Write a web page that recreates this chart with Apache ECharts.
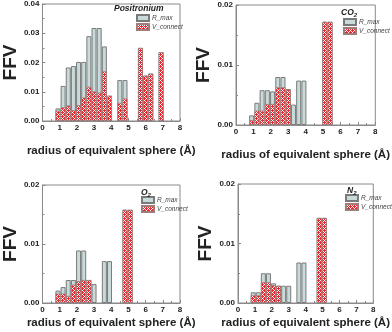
<!DOCTYPE html>
<html>
<head>
<meta charset="utf-8">
<script src="https://cdn.jsdelivr.net/npm/echarts@6/dist/echarts.min.js"></script>
<style>
  html, body { margin: 0; padding: 0; background: #fff; }
  #main { width: 392px; height: 332px; }
</style>
</head>
<body>
<div id="main"></div>
<script>
// bin centres (radius, Å) shared by all four panels
var radius = [0.9, 1.2, 1.5, 1.8, 2.1, 2.4, 2.7, 3.0, 3.3, 3.6, 3.9, 4.2, 4.5, 4.8, 5.1, 5.4, 5.7, 6.0, 6.3, 6.6, 6.9];

var posRmax = [0.0043, 0.012, 0.0183, 0.0188, 0.0202, 0.0202, 0.029, 0.0318, 0.0318, 0.0255, 0.0068, null, 0.014, 0.014, null, null, 0.025, 0.0155, 0.0162, null, 0.0235];
var posVcon = [0.0035, 0.0047, 0.0053, 0.0037, 0.0054, 0.008, 0.0117, 0.0101, 0.0097, 0.017, 0.0087, null, 0.0062, 0.0077, null, null, 0.025, 0.0155, 0.0162, null, 0.0235];

var co2Rmax = [0.0016, 0.0037, 0.0058, 0.0058, 0.0056, 0.008, 0.008, 0.006, 0.0034, 0.0074, 0.0074, null, null, null, 0.0172, 0.0172, null, null, null, null, null];
var co2Vcon = [0.0008, 0.0024, 0.0024, 0.0035, 0.0035, 0.0063, 0.0063, 0.0059, null, null, null, null, null, null, 0.0172, 0.0172, null, null, null, null, null];

var o2Rmax = [0.0021, 0.0027, 0.0039, 0.0039, 0.0089, 0.0089, 0.0039, 0.0032, null, 0.0071, 0.0071, null, null, 0.0158, 0.0158, null, null, null, null, null, null];
var o2Vcon = [0.0016, 0.0016, 0.0012, 0.0031, 0.0037, 0.0039, 0.0039, null, null, null, null, null, null, 0.0158, 0.0158, null, null, null, null, null, null];

var n2Rmax = [0.0018, 0.0018, 0.005, 0.005, 0.0033, 0.0029, 0.0029, 0.0029, null, 0.0068, 0.0068, null, null, 0.0143, 0.0143, null, null, null, null, null, null];
var n2Vcon = [0.0013, 0.0013, 0.0035, 0.0035, 0.003, 0.0029, null, null, null, null, null, null, null, 0.0143, 0.0143, null, null, null, null, null, null];

var xTicks = [0, 1, 2, 3, 4, 5, 6, 7, 8];

// red / white cross-hatch pattern
var hatch = document.createElement('canvas');
hatch.width = 4; hatch.height = 4;
var hc = hatch.getContext('2d');
hc.fillStyle = '#e8262c';
hc.fillRect(0, 0, 4, 4);
hc.fillStyle = '#ffffff';
for (var i = 0; i < 4; i++) {
  for (var j = 0; j < 4; j++) {
    if ((i + j) % 4 === 0 || (i - j + 4) % 4 === 0) hc.fillRect(i, j, 1, 1);
  }
}

function pairs(vals) {
  var out = [];
  for (var k = 0; k < radius.length; k++) {
    if (vals[k] != null) out.push([radius[k], vals[k]]);
  }
  return out;
}

var panels = [
  { rmax: posRmax, vcon: posVcon, ymax: 0.04, grid: { left: 35, top: 4, width: 145, height: 117 }, xGap: 24,
    title: '{i|Positronium}', tx: 114, ty: 4, lx: 136, ly: 14 },
  { rmax: co2Rmax, vcon: co2Vcon, ymax: 0.02, grid: { left: 236, top: 5, width: 147, height: 120 }, xGap: 24,
    title: '{i|CO}{s|2}', tx: 341, ty: 8, lx: 343, ly: 18 },
  { rmax: o2Rmax, vcon: o2Vcon, ymax: 0.02, grid: { left: 35, top: 185, width: 145, height: 118 }, xGap: 14,
    title: '{i|O}{s|2}', tx: 141, ty: 188, lx: 141, ly: 196 },
  { rmax: n2Rmax, vcon: n2Vcon, ymax: 0.02, grid: { left: 238, top: 184, width: 146, height: 119 }, xGap: 14,
    title: '{i|N}{s|2}', tx: 347, ty: 186, lx: 345, ly: 194 }
];

var option = {
  animation: false,
  backgroundColor: '#fff',
  grid: [], xAxis: [], yAxis: [], series: [], title: [], legend: []
};

var tickFont = { fontFamily: 'Liberation Sans', fontWeight: 'bold', fontSize: 8, color: '#222' };

panels.forEach(function (p, n) {
  option.grid.push(Object.assign({ show: true, borderColor: '#8a8a8a', borderWidth: 1 }, p.grid));
  option.xAxis.push({
    gridIndex: n, type: 'value', min: 0, max: 8, interval: 1,
    name: 'radius of equivalent sphere (Å)', nameLocation: 'middle', nameGap: p.xGap,
    nameTextStyle: { fontFamily: 'Liberation Sans', fontWeight: 'bold', fontSize: 11.5, color: '#222' },
    axisLine: { lineStyle: { color: '#8a8a8a' } },
    axisTick: { inside: true, length: 3, lineStyle: { color: '#8a8a8a' } },
    minorTick: { show: true, splitNumber: 2, length: 2, lineStyle: { color: '#8a8a8a' } },
    axisLabel: Object.assign({ margin: 3, formatter: function (v) { return xTicks.indexOf(v) >= 0 ? String(v) : ''; } }, tickFont),
    splitLine: { show: false }
  });
  option.yAxis.push({
    gridIndex: n, type: 'value', min: 0, max: p.ymax, interval: 0.01,
    name: 'FFV', nameLocation: 'middle', nameGap: p.ymax > 0.03 ? 17 : 21,
    nameTextStyle: { fontFamily: 'Liberation Sans', fontWeight: 'bold', fontSize: 19, color: '#222' },
    axisLine: { lineStyle: { color: '#8a8a8a' } },
    axisTick: { inside: true, length: 3, lineStyle: { color: '#8a8a8a' } },
    minorTick: { show: true, splitNumber: 2, length: 2, lineStyle: { color: '#8a8a8a' } },
    axisLabel: Object.assign({ margin: 3, formatter: function (v) { return v.toFixed(2); } }, tickFont),
    splitLine: { show: false }
  });
  option.series.push({
    name: 'R_max', type: 'bar', xAxisIndex: n, yAxisIndex: n,
    barWidth: 5, barGap: '-100%',
    itemStyle: { color: '#c8dada', borderColor: '#7a7a7a', borderWidth: 1 },
    data: pairs(p.rmax)
  });
  option.series.push({
    name: 'V_connect', type: 'bar', xAxisIndex: n, yAxisIndex: n,
    barWidth: 5, barGap: '-100%',
    itemStyle: { color: { image: hatch, repeat: 'repeat' }, borderColor: '#a07c7c', borderWidth: 0.8 },
    data: pairs(p.vcon)
  });
  option.title.push({
    text: p.title, left: p.tx, top: p.ty, padding: 0,
    textStyle: {
      rich: {
        i: { fontFamily: 'Liberation Sans', fontWeight: 'bold', fontStyle: 'italic', fontSize: 8.5, color: '#222' },
        s: { fontFamily: 'Liberation Sans', fontWeight: 'bold', fontStyle: 'italic', fontSize: 6, color: '#222', verticalAlign: 'bottom', padding: [4, 0, 0, 0] }
      }
    }
  });
  option.legend.push({
    left: p.lx, top: p.ly, orient: 'vertical', padding: 0, itemGap: 1,
    itemWidth: 12, itemHeight: 6, icon: 'rect',
    textStyle: { fontFamily: 'Liberation Sans', fontStyle: 'italic', fontSize: 6.5, color: '#444', padding: [0, 0, 0, -2] },
    data: ['R_max', 'V_connect']
  });
});

var chart = echarts.init(document.getElementById('main'), null, { renderer: 'canvas' });
chart.setOption(option);
</script>
</body>
</html>
